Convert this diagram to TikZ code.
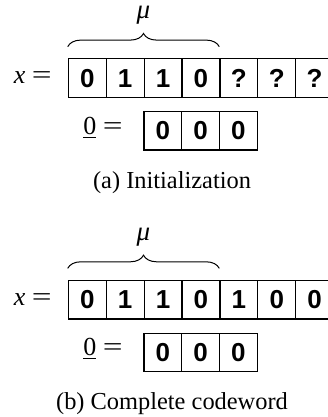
\documentclass[tikz,border=0pt]{standalone}
\usepackage{fontspec}
\usepackage{graphicx}
\setmainfont{Liberation Serif}
\newfontfamily\cellfont{Liberation Sans}
\usetikzlibrary{decorations.pathreplacing}
\newcommand{\wideeq}{\scalebox{1.35}[1]{=}}
\begin{document}
\begin{tikzpicture}[x=0.5pt,y=0.5pt,
  cellbox/.style={draw, line width=0.6pt, minimum width=18.95pt, minimum height=19.2pt,
    inner sep=0pt, anchor=north west, font=\cellfont\bfseries\fontsize{13}{15}\selectfont},
  lbl/.style={inner sep=0pt, anchor=base east, font=\fontsize{13}{15}\selectfont},
  mulbl/.style={inner sep=0pt, font=\fontsize{13.5}{15}\selectfont\itshape},
  captxt/.style={inner sep=0pt, anchor=base, font=\fontsize{12.2}{14}\selectfont},
  bracestyle/.style={decorate, decoration={brace, amplitude=6.6pt}, line width=0.5pt}]
\useasboundingbox (0,0) rectangle (327,-417);
% panel (a)
\node[mulbl] (mua) at (143.3,-15) {μ};
\coordinate (bla) at (67.7,-46.7);
\coordinate (bra) at (219.3,-46.7);
\draw[bracestyle] (bla) -- (bra);
\node[lbl] (xa) at (52,-83.5) {\textit{x}\hspace{0.25em}\wideeq};
\foreach \v [count=\i from 0] in {0,1,1,0,?,?,?}
  \node[cellbox] (ca\i) at (67.7+\i*37.9,-58.3) {\v};
\node[lbl] (za) at (123,-134) {\underline{0}\hspace{0.25em}\wideeq};
\foreach \v [count=\i from 0] in {0,0,0}
  \node[cellbox] (da\i) at (143.3+\i*37.8,-111) {\v};
\node[captxt] (capa) at (172,-188) {(a) Initialization};
% panel (b)
\node[mulbl] (mub) at (143.3,-236.7) {μ};
\coordinate (blb) at (67.7,-268.4);
\coordinate (brb) at (219.3,-268.4);
\draw[bracestyle] (blb) -- (brb);
\node[lbl] (xb) at (52,-305.2) {\textit{x}\hspace{0.25em}\wideeq};
\foreach \v [count=\i from 0] in {0,1,1,0,1,0,0}
  \node[cellbox] (cb\i) at (67.7+\i*37.9,-280) {\v};
\node[lbl] (zb) at (123,-355.7) {\underline{0}\hspace{0.25em}\wideeq};
\foreach \v [count=\i from 0] in {0,0,0}
  \node[cellbox] (db\i) at (143.3+\i*37.8,-332.7) {\v};
\node[captxt] (capb) at (172,-409.7) {(b) Complete codeword};
\end{tikzpicture}
\end{document}
